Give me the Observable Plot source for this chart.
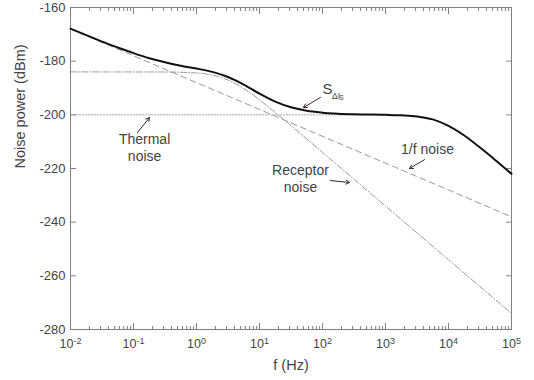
<!DOCTYPE html>
<html>
<head>
<meta charset="utf-8">
<script src="https://cdn.jsdelivr.net/npm/d3@7"></script>
<script src="https://cdn.jsdelivr.net/npm/@observablehq/plot@0.6"></script>
<style>
  html, body { margin: 0; padding: 0; background: white; }
</style>
</head>
<body>
<div id="chart"></div>
<script>
// Total noise S_ΔIs
const totalF = [0.01, 0.0178, 0.0316, 0.0562, 0.1, 0.178, 0.316, 0.562, 1, 1.78, 3.16, 5.62, 10, 17.8, 31.6, 56.2, 100, 316, 1000, 1778, 3162, 5623, 10000, 17783, 31623, 56234, 100000];
const totalDb = [-167.9, -170.3, -172.7, -174.9, -177.0, -178.9, -180.4, -181.7, -182.75, -184.0, -185.9, -188.7, -192.1, -195.1, -197.2, -198.5, -199.2, -199.8, -200.0, -200.2, -200.6, -201.7, -204.1, -207.7, -212.2, -217.0, -222.0];
// Receptor noise
const receptorF = [0.01, 0.316, 1, 1.78, 3.16, 5.62, 10, 17.8, 31.6, 100, 1000, 10000, 100000];
const receptorDb = [-184.0, -184.04, -184.4, -185.2, -187.0, -190.2, -194.4, -199.1, -204.0, -214.0, -234.0, -254.0, -274.0];
// 1/f noise
const flickerF = [0.01, 100000];
const flickerDb = [-168, -238];
// Thermal noise
const thermalF = [0.01, 1000];
const thermalDb = [-200, -200];

const xMajor = [1e-2, 1e-1, 1e0, 1e1, 1e2, 1e3, 1e4, 1e5];
const yTicks = [-280, -260, -240, -220, -200, -180, -160];
const xMinor = [];
for (let k = -2; k < 5; k++) for (let m = 2; m <= 9; m++) xMinor.push(m * Math.pow(10, k));

const zip = (xs, ys) => xs.map((x, i) => ({x, y: ys[i]}));

const labels = [
  {x: 0.15, y: -212, text: "Thermal\nnoise"},
  {x: 44.8, y: -223.5, text: "Receptor\nnoise"},
  {x: 4645, y: -212.6, text: "1/f noise"}
];
const arrows = [
  {x1: 0.1156, y1: -206.6, x2: 0.1795, y2: -201.0},
  {x1: 134, y1: -224.5, x2: 268.5, y2: -225.2},
  {x1: 4159, y1: -216.7, x2: 2404, y2: -220.0},
  {x1: 92.9, y1: -193.5, x2: 49.9, y2: -197.3}
];

const gray = "#808080";
const textColor = "#444";

const chart = Plot.plot({
  width: 534,
  height: 380,
  marginLeft: 70,
  marginRight: 23,
  marginTop: 7,
  marginBottom: 51,
  style: {fontFamily: "'Liberation Sans', Arial, sans-serif", background: "white", color: textColor},
  x: {type: "log", domain: [1e-2, 1e5]},
  y: {domain: [-280, -160]},
  marks: [
    Plot.frame({stroke: gray}),
    // ticks inward on all sides
    Plot.axisX(xMajor, {anchor: "bottom", tickSize: -6, tickFormat: () => "", label: null, stroke: gray}),
    Plot.axisX(xMinor, {anchor: "bottom", tickSize: -3, tickFormat: () => "", label: null, stroke: gray}),
    Plot.axisX(xMajor, {anchor: "top", tickSize: -6, tickFormat: () => "", label: null, stroke: gray}),
    Plot.axisX(xMinor, {anchor: "top", tickSize: -3, tickFormat: () => "", label: null, stroke: gray}),
    Plot.axisY(yTicks, {anchor: "left", tickSize: -6, tickFormat: () => "", label: null, stroke: gray}),
    Plot.axisY(yTicks, {anchor: "right", tickSize: -6, tickFormat: () => "", label: null, stroke: gray}),
    // labels
    Plot.axisX(xMajor, {anchor: "bottom", tickSize: 0, tickPadding: 10, fontSize: 12.5, fill: textColor,
      tickFormat: d => "10^" + Math.round(Math.log10(d)), label: null}),
    Plot.axisY(yTicks, {anchor: "left", tickSize: 0, tickPadding: 5, fontSize: 13, fill: textColor,
      tickFormat: d => String(d), label: null}),
    Plot.text(["f (Hz)"], {frameAnchor: "bottom", dy: 40, fontSize: 14.5, fill: textColor}),
    Plot.text(["Noise power (dBm)"], {frameAnchor: "left", dx: -50, rotate: -90, fontSize: 14.5, fill: textColor}),
    // curves
    Plot.line(zip(thermalF, thermalDb), {x: "x", y: "y", stroke: "#999", strokeWidth: 1, strokeDasharray: "1,2"}),
    Plot.line(zip(flickerF, flickerDb), {x: "x", y: "y", stroke: "#999", strokeWidth: 1, strokeDasharray: "6,4"}),
    Plot.line(zip(receptorF, receptorDb), {x: "x", y: "y", stroke: "#999", strokeWidth: 1, strokeDasharray: "6,2,1,2", curve: "monotone-x"}),
    Plot.line(zip(totalF, totalDb), {x: "x", y: "y", stroke: "#111", strokeWidth: 2, curve: "monotone-x"}),
    // annotations
    Plot.text(labels, {x: "x", y: "y", text: "text", fontSize: 14, fill: textColor, lineHeight: 1.2}),
    Plot.arrow(arrows, {x1: "x1", y1: "y1", x2: "x2", y2: "y2", stroke: "#3a2424", strokeWidth: 1, headLength: 6}),
    Plot.text(["S"], {x: 100, y: -190.6, fontSize: 15, fill: textColor, textAnchor: "start"}),
    Plot.text(["ΔI"], {x: 142, y: -192.9, fontSize: 8.5, fill: textColor, textAnchor: "start"}),
    Plot.text(["S"], {x: 183, y: -193.5, fontSize: 7, fill: textColor, textAnchor: "start"})
  ]
});

// superscript exponents for the x tick labels
chart.querySelectorAll("text").forEach(t => {
  const m = /^10\^(-?\d+)$/.exec(t.textContent);
  if (m) {
    t.textContent = "";
    const base = document.createElementNS("http://www.w3.org/2000/svg", "tspan");
    base.textContent = "10";
    const sup = document.createElementNS("http://www.w3.org/2000/svg", "tspan");
    sup.textContent = m[1];
    sup.setAttribute("dy", "-0.5em");
    sup.setAttribute("font-size", "72%");
    t.appendChild(base);
    t.appendChild(sup);
  }
});

document.getElementById("chart").appendChild(chart);
</script>
</body>
</html>
